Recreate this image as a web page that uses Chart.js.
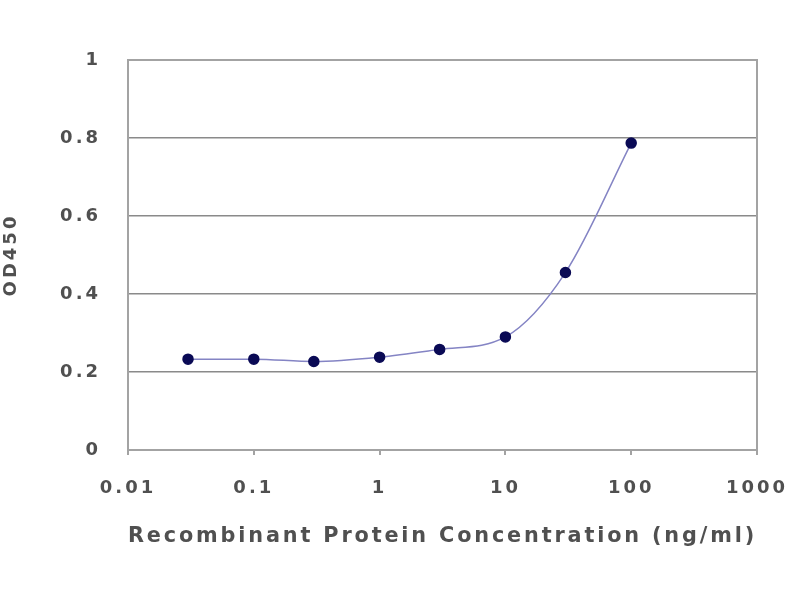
<!DOCTYPE html>
<html>
<head>
<meta charset="utf-8">
<script src="https://cdn.jsdelivr.net/npm/chart.js@4"></script>
<style>
  body { margin: 0; background: #fff; }
  canvas { display: block; }
</style>
</head>
<body>
<canvas id="myChart" width="800" height="600"></canvas>
<script>
// concentrations (ng/ml) and measured OD450
var concentrations = [0.03, 0.1, 0.3, 1, 3, 10, 30, 100];
var od450 = [0.233, 0.233, 0.227, 0.238, 0.258, 0.29, 0.455, 0.787];
var xTicks = [0.01, 0.1, 1, 10, 100, 1000];
var yTicks = [0, 0.2, 0.4, 0.6, 0.8, 1];

var tickFont = { family: "DejaVu Sans", size: 18, weight: "bold" };
var titleFont = { family: "DejaVu Sans", size: 22, weight: "bold" };
var textColor = "#505050";

// wide, spaced lettering like the stretched original
function spread(chart) { chart.ctx.letterSpacing = "3px"; }

var frame = {
  id: "frame",
  beforeUpdate: spread,
  beforeDraw: spread,
  afterDraw: function (chart) {
    var a = chart.chartArea, ctx = chart.ctx;
    ctx.save();
    ctx.strokeStyle = "#a3a3a3";
    ctx.lineWidth = 2;
    ctx.strokeRect(a.left, a.top, a.right - a.left, a.bottom - a.top);
    ctx.restore();
  }
};

new Chart(document.getElementById("myChart"), {
  type: "line",
  data: {
    datasets: [{
      data: concentrations.map(function (c, i) { return { x: c, y: od450[i] }; }),
      borderColor: "#8484c4",
      borderWidth: 1.5,
      backgroundColor: "#0a0a55",
      pointBackgroundColor: "#0a0a55",
      pointBorderColor: "#0a0a55",
      pointRadius: 5,
      fill: false,
      cubicInterpolationMode: "monotone"
    }]
  },
  options: {
    responsive: false,
    animation: false,
    layout: { padding: { top: 60, right: 43, left: 0, bottom: 51 } },
    plugins: { legend: { display: false }, tooltip: { enabled: false } },
    scales: {
      x: {
        type: "logarithmic",
        min: 0.01,
        max: 1000,
        afterBuildTicks: function (s) { s.ticks = xTicks.map(function (v) { return { value: v }; }); },
        afterFit: function (s) { s.height = 99; s.paddingLeft = 0; s.paddingRight = 0; },
        border: { display: false },
        grid: { drawOnChartArea: false, tickLength: 5, color: "#a3a3a3", lineWidth: 2 },
        ticks: {
          padding: 23,
          color: textColor,
          font: tickFont,
          maxRotation: 0,
          autoSkip: false,
          callback: function (v) { return String(v); }
        },
        title: {
          display: true,
          text: "Recombinant Protein Concentration (ng/ml)",
          color: textColor,
          font: titleFont,
          padding: { top: 0, bottom: 0 }
        }
      },
      y: {
        min: 0,
        max: 1,
        afterBuildTicks: function (s) { s.ticks = yTicks.map(function (v) { return { value: v }; }); },
        afterFit: function (s) { s.width = 128; },
        border: { display: false },
        grid: { drawTicks: false, color: "#8a8a8a", lineWidth: 1.5 },
        ticks: {
          padding: 27,
          color: textColor,
          font: tickFont,
          callback: function (v) { return String(v); }
        },
        title: {
          display: true,
          text: "OD450",
          color: textColor,
          font: tickFont,
          padding: { top: 1, bottom: 0 }
        }
      }
    }
  },
  plugins: [frame]
});
</script>
</body>
</html>
